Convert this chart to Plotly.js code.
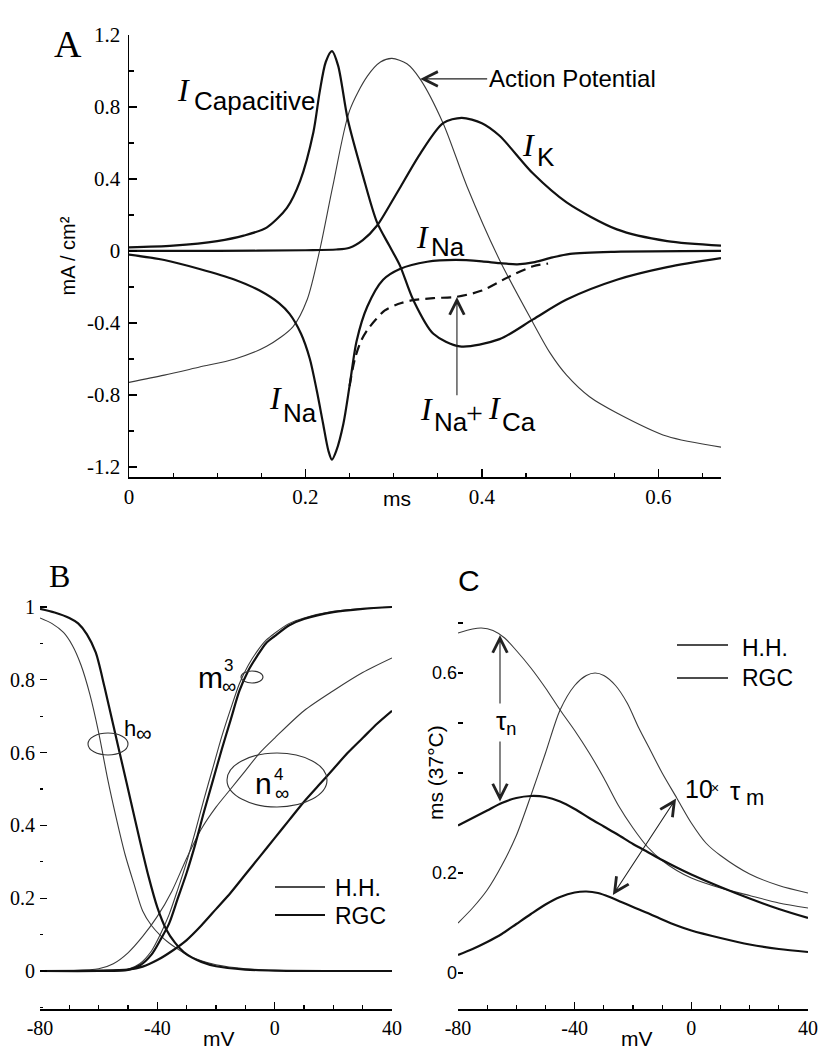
<!DOCTYPE html>
<html>
<head>
<meta charset="utf-8">
<script src="https://cdn.plot.ly/plotly-3.0.1.min.js"></script>
<style>html,body{margin:0;padding:0;background:#fff}</style>
</head>
<body>
<div id="chart" style="width:826px;height:1050px"></div>
<script>
// ---- Panel A: currents during the action potential (t in ms, mA/cm2) ----
const apT = [0, 0.04, 0.08, 0.12, 0.156, 0.186, 0.202, 0.216, 0.231, 0.25, 0.27, 0.285, 0.298, 0.315, 0.33, 0.356, 0.383, 0.42, 0.458, 0.477, 0.496, 0.522, 0.553, 0.61, 0.671];
const apV = [-0.73, -0.69, -0.645, -0.6, -0.53, -0.42, -0.27, 0, 0.36, 0.78, 0.97, 1.05, 1.07, 1.04, 0.955, 0.71, 0.36, -0.05, -0.40, -0.565, -0.69, -0.81, -0.90, -1.03, -1.09];

const ikT = [0, 0.1, 0.2, 0.235, 0.25, 0.265, 0.281, 0.295, 0.307, 0.33, 0.356, 0.377, 0.4, 0.42, 0.458, 0.496, 0.553, 0.61, 0.671];
const ikV = [0, 0, 0.004, 0.008, 0.018, 0.06, 0.14, 0.25, 0.35, 0.54, 0.71, 0.74, 0.71, 0.64, 0.43, 0.27, 0.12, 0.055, 0.03];

const capT = [0, 0.05, 0.1, 0.13, 0.156, 0.179, 0.194, 0.209, 0.216, 0.223, 0.23, 0.237, 0.248, 0.265, 0.281, 0.295, 0.307, 0.322, 0.345, 0.375, 0.42, 0.458, 0.496, 0.553, 0.61, 0.671];
const capV = [0.02, 0.03, 0.055, 0.085, 0.13, 0.24, 0.39, 0.66, 0.88, 1.05, 1.11, 1.03, 0.73, 0.42, 0.16, 0.03, -0.08, -0.27, -0.46, -0.53, -0.49, -0.38, -0.27, -0.16, -0.09, -0.04];

const naT = [0, 0.04, 0.08, 0.12, 0.148, 0.17, 0.182, 0.195, 0.205, 0.213, 0.22, 0.226, 0.23, 0.235, 0.243, 0.25, 0.258, 0.27, 0.288, 0.307, 0.338, 0.37, 0.4, 0.42, 0.44, 0.46, 0.48, 0.5, 0.55, 0.671];
const naV = [-0.02, -0.05, -0.1, -0.16, -0.22, -0.29, -0.35, -0.46, -0.6, -0.78, -0.96, -1.11, -1.16, -1.11, -0.96, -0.75, -0.5, -0.31, -0.16, -0.1, -0.06, -0.05, -0.058, -0.068, -0.074, -0.062, -0.036, -0.016, -0.005, 0];

const nacaT = [0.25, 0.256, 0.263, 0.27, 0.28, 0.29, 0.305, 0.32, 0.345, 0.371, 0.4, 0.432, 0.458, 0.475];
const nacaV = [-0.75, -0.6, -0.5, -0.44, -0.38, -0.33, -0.295, -0.275, -0.262, -0.255, -0.22, -0.14, -0.085, -0.07];

// ---- Panel B: steady-state gating (mV) ----
const hRgcV = [-80, -75, -70, -67, -64, -61, -58, -55, -52, -49, -46, -43, -40, -37, -34, -31, -28, -25, -20, -10, 0, 20, 40];
const hRgc = [0.995, 0.985, 0.97, 0.955, 0.925, 0.875, 0.78, 0.675, 0.57, 0.465, 0.36, 0.26, 0.175, 0.115, 0.078, 0.052, 0.036, 0.025, 0.013, 0.004, 0.001, 0, 0];
const hHHV = [-80, -76, -72, -69, -66, -63, -60, -57, -54, -51, -48, -45, -42, -39, -36, -33, -30, -25, -20, -10, 0, 20, 40];
const hHH = [0.97, 0.955, 0.93, 0.895, 0.84, 0.76, 0.655, 0.53, 0.42, 0.32, 0.24, 0.165, 0.125, 0.098, 0.077, 0.06, 0.045, 0.028, 0.017, 0.006, 0.002, 0, 0];

const mV = [-80, -60, -50, -46, -42, -39, -36, -33, -30, -27, -24, -21, -18, -15, -12, -9, -6, -3, 0, 5, 10, 20, 30, 40];
const m3Rgc = [0, 0, 0.003, 0.015, 0.045, 0.085, 0.13, 0.2, 0.27, 0.35, 0.44, 0.525, 0.61, 0.69, 0.77, 0.825, 0.865, 0.9, 0.92, 0.95, 0.967, 0.986, 0.995, 1.0];
const m3HH = [0, 0.001, 0.005, 0.02, 0.055, 0.1, 0.155, 0.225, 0.3, 0.385, 0.475, 0.56, 0.645, 0.72, 0.79, 0.84, 0.878, 0.908, 0.928, 0.955, 0.97, 0.988, 0.996, 1.0];

const nHHV = [-80, -70, -60, -55, -50, -45, -40, -35, -30, -25, -20, -15, -10, -5, 0, 10, 20, 30, 40];
const n4HH = [0, 0.001, 0.006, 0.02, 0.05, 0.095, 0.15, 0.22, 0.31, 0.39, 0.45, 0.5, 0.55, 0.6, 0.64, 0.715, 0.77, 0.82, 0.86];
const nRgcV = [-80, -60, -50, -45, -40, -35, -30, -25, -20, -15, -10, -5, 0, 5, 10, 15, 20, 25, 30, 35, 40];
const n4Rgc = [0, 0.001, 0.004, 0.012, 0.03, 0.055, 0.085, 0.125, 0.17, 0.215, 0.265, 0.315, 0.365, 0.415, 0.465, 0.51, 0.555, 0.6, 0.64, 0.68, 0.715];

// ---- Panel C: time constants at 37 C (ms) ----
const tnHHV = [-80, -75, -72, -68, -64, -60, -55, -50, -45, -40, -35, -30, -25, -20, -15, -10, -5, 0, 10, 20, 30, 40];
const tnHH = [0.68, 0.688, 0.69, 0.685, 0.67, 0.645, 0.61, 0.57, 0.526, 0.485, 0.44, 0.39, 0.335, 0.29, 0.252, 0.225, 0.205, 0.19, 0.17, 0.155, 0.14, 0.13];
const tmHHV = [-80, -75, -70, -65, -60, -55, -50, -45, -40, -36, -33, -30, -26, -22, -18, -14, -10, -5, 0, 5, 10, 20, 30, 40];
const tmHH10 = [0.1, 0.13, 0.166, 0.215, 0.275, 0.355, 0.44, 0.526, 0.575, 0.595, 0.6, 0.595, 0.575, 0.54, 0.49, 0.445, 0.4, 0.35, 0.3, 0.26, 0.235, 0.198, 0.175, 0.16];
const tnRgcV = [-80, -75, -70, -65, -60, -55, -50, -45, -40, -35, -30, -25, -20, -15, -10, -5, 0, 10, 20, 30, 40];
const tnRgc = [0.295, 0.31, 0.325, 0.34, 0.35, 0.354, 0.352, 0.343, 0.328, 0.31, 0.293, 0.276, 0.258, 0.242, 0.226, 0.211, 0.197, 0.172, 0.149, 0.128, 0.11];
const tmRgcV = [-80, -75, -70, -65, -60, -55, -50, -45, -40, -36, -32, -28, -24, -20, -15, -10, -5, 0, 10, 20, 30, 40];
const tmRgc10 = [0.036, 0.048, 0.062, 0.078, 0.098, 0.118, 0.137, 0.152, 0.161, 0.163, 0.16, 0.152, 0.142, 0.132, 0.12, 0.107, 0.095, 0.085, 0.07, 0.057, 0.048, 0.042];

// tick labels
const aXTicks = [0, 0.2, 0.4, 0.6];
const aYTicks = [-1.2, -0.8, -0.4, 0, 0.4, 0.8, 1.2];
const aYText = ['-1.2', '-0.8', '-0.4', '0', '0.4', '0.8', '1.2'];
const vTicks = [-80, -40, 0, 40];
const vText = ['-80', '-40', '0', '40'];
const bYTicks = [0, 0.2, 0.4, 0.6, 0.8, 1];
const bYText = ['0', '0.2', '0.4', '0.6', '0.8', '1'];
const cYTicks = [0, 0.2, 0.6];
const cYText = ['0', '0.2', '0.6'];
const cYMinor = [0.4, 0.5, 0.7];

const SERIF = 'Liberation Serif, Times New Roman, serif';
const SANS = 'Liberation Sans, Arial, sans-serif';
const W = 826, H = 1050;
const px = x => x / W;
const py = y => 1 - y / H;

function curve(x, y, xa, ya, thick, dash) {
    return {
        x, y, xaxis: xa, yaxis: ya, type: 'scatter', mode: 'lines', hoverinfo: 'skip',
        line: { color: thick ? '#111' : '#3a3a3a', width: thick ? 2.2 : 1.1, shape: 'spline', smoothing: 0.8, dash: dash || 'solid' },
    };
}

const data = [
    curve(apT, apV, 'x', 'y', false),
    curve(ikT, ikV, 'x', 'y', true),
    curve(naT, naV, 'x', 'y', true),
    curve(nacaT, nacaV, 'x', 'y', true, '10px,6px'),
    curve(capT, capV, 'x', 'y', true),

    curve(hHHV, hHH, 'x2', 'y2', false),
    curve(mV, m3HH, 'x2', 'y2', false),
    curve(nHHV, n4HH, 'x2', 'y2', false),
    curve(hRgcV, hRgc, 'x2', 'y2', true),
    curve(mV, m3Rgc, 'x2', 'y2', true),
    curve(nRgcV, n4Rgc, 'x2', 'y2', true),

    curve(tnHHV, tnHH, 'x3', 'y3', false),
    curve(tmHHV, tmHH10, 'x3', 'y3', false),
    curve(tnRgcV, tnRgc, 'x3', 'y3', true),
    curve(tmRgcV, tmRgc10, 'x3', 'y3', true),
];

const axBase = {
    showgrid: false, zeroline: false, fixedrange: true, tickmode: 'array',
    ticks: 'inside', tickcolor: '#000', linecolor: '#000',
};

function txt(text, x, y, size, family, xanchor, extra) {
    return Object.assign({
        xref: 'paper', yref: 'paper', x: px(x), y: py(y), text, showarrow: false,
        xanchor: xanchor || 'center', yanchor: 'middle',
        font: { size, family, color: '#000' },
    }, extra || {});
}

// bare arrows: a non-breaking space keeps the text box tiny but real
function arrow(xref, yref, hx, hy, tx, ty, both) {
    return {
        xref, yref, x: hx, y: hy, axref: xref, ayref: yref, ax: tx, ay: ty,
        text: '\u00a0', font: { size: 2, family: SANS, color: '#fff' }, borderpad: 0,
        showarrow: true, arrowhead: 5, arrowsize: 2.6, arrowwidth: 1.1, arrowcolor: '#222',
        arrowside: both ? 'end+start' : 'end', startarrowhead: 5, startarrowsize: 2.6,
    };
}

const annotations = [
    // panel A
    txt('A', 68, 44, 38, SERIF),
    txt('<i>I</i>', 183, 90, 32, SERIF),
    txt('Capacitive', 192, 101, 26, SANS, 'left'),
    txt('<i>I</i>', 528, 145, 32, SERIF),
    txt('K', 535, 157, 26, SANS, 'left'),
    txt('<i>I</i>', 422, 237, 32, SERIF),
    txt('Na', 429, 247, 26, SANS, 'left'),
    txt('<i>I</i>', 275, 398, 32, SERIF),
    txt('Na', 281, 413, 26, SANS, 'left'),
    txt('<i>I</i>', 426, 409, 32, SERIF),
    txt('Na', 432, 422, 26, SANS, 'left'),
    txt('+', 474, 412, 30, SERIF),
    txt('<i>I</i>', 494, 408, 32, SERIF),
    txt('Ca', 500, 422, 26, SANS, 'left'),
    {
        xref: 'x', yref: 'y', x: 0.33, y: 0.956, ax: 152, ay: 0, text: 'Action Potential',
        font: { size: 24, family: SANS, color: '#000' }, showarrow: true,
        arrowhead: 5, arrowsize: 2.6, arrowwidth: 1.1, arrowcolor: '#222',
    },
    arrow('x', 'y', 0.3717, -0.256, 0.3717, -0.81, false),
    txt('ms', 397, 498, 21, SANS),

    // panel B
    txt('B', 60, 576, 32, SERIF),
    txt('h', 122, 728, 22, SANS, 'left'),
    txt('∞', 134, 733, 22, SANS, 'left'),
    txt('m', 196, 677, 30, SANS, 'left'),
    txt('3', 228, 665, 17, SANS),
    txt('∞', 229, 686, 20, SANS),
    txt('n', 253, 783, 30, SANS, 'left'),
    txt('4', 278, 774, 17, SANS),
    txt('∞', 282, 793, 20, SANS),
    txt('H.H.', 333, 888, 23, SANS, 'left'),
    txt('RGC', 333, 916, 23, SANS, 'left'),
    txt('mV', 219, 1038, 21, SANS),

    // panel C
    txt('C', 469, 580, 30, SANS),
    txt('ms (37°C)', 435, 772, 21, SANS, 'center', { textangle: -90 }),
    arrow('x3', 'y3', -65.6, 0.676, -65.6, 0.34, true),
    txt('τ<sub>n</sub>', 506, 722, 26, SANS, 'center', { bgcolor: '#fff', borderpad: 2 }),
    txt('10', 683, 789, 25, SANS, 'left'),
    txt('×', 715, 788, 14, SANS),
    txt('τ', 735, 791, 26, SANS),
    txt('m', 744, 797, 22, SANS, 'left'),
    arrow('x3', 'y3', -26.9, 0.156, -4.9, 0.352, true),
    txt('H.H.', 740, 648, 23, SANS, 'left'),
    txt('RGC', 740, 678, 23, SANS, 'left'),
    txt('mV', 637, 1038, 21, SANS),
];

function ellipse(cx, cy, rx, ry) {
    return {
        type: 'circle', xref: 'paper', yref: 'paper',
        x0: px(cx - rx), x1: px(cx + rx), y0: py(cy + ry), y1: py(cy - ry),
        line: { color: '#333', width: 1.1 },
    };
}
function hline(x0, x1, y, width) {
    return { type: 'line', xref: 'paper', yref: 'paper', x0: px(x0), x1: px(x1), y0: py(y), y1: py(y), line: { color: '#111', width } };
}

const shapes = [
    ellipse(108, 744, 20, 11),
    ellipse(252, 677, 11, 6),
    ellipse(277, 780, 50, 27),
    hline(275, 325, 887, 1.4),
    hline(275, 325, 915, 2.2),
    hline(677, 728, 645, 1.4),
    hline(677, 728, 678, 1.6),
];

const layout = {
    width: W, height: H, showlegend: false,
    margin: { l: 0, r: 0, t: 0, b: 0 },
    paper_bgcolor: '#fff', plot_bgcolor: '#fff',
    xaxis: Object.assign({}, axBase, {
        domain: [px(129), px(721)], range: [0, 0.671], anchor: 'y',
        showline: true, linewidth: 1.5, ticklen: 8, tickwidth: 1.5,
        tickvals: aXTicks, ticktext: aXTicks.map(String),
        minor: { dtick: 0.05, tick0: 0, ticks: 'inside', ticklen: 4, tickwidth: 1.2, tickcolor: '#000' },
        tickfont: { family: SERIF, size: 21, color: '#000' },
    }),
    yaxis: Object.assign({}, axBase, {
        domain: [py(477), py(35)], range: [-1.256, 1.2], anchor: 'x',
        showline: true, linewidth: 1.5, ticklen: 8, tickwidth: 1.5,
        tickvals: aYTicks, ticktext: aYText, ticklabelstandoff: 3,
        minor: { dtick: 0.2, tick0: 0, ticks: 'inside', ticklen: 5, tickwidth: 1.2, tickcolor: '#000' },
        tickfont: { family: SERIF, size: 21, color: '#000' },
        title: { text: 'mA / cm²', font: { family: SANS, size: 20, color: '#000' }, standoff: 6 },
    }),
    xaxis2: Object.assign({}, axBase, {
        domain: [px(40), px(392)], range: [-80, 40], anchor: 'y2',
        showline: true, linewidth: 1.5, ticklen: 7, tickwidth: 1.5,
        tickvals: vTicks, ticktext: vText,
        minor: { dtick: 10, tick0: 0, ticks: 'inside', ticklen: 4, tickwidth: 1.2, tickcolor: '#000' },
        tickfont: { family: SERIF, size: 20, color: '#000' },
    }),
    yaxis2: Object.assign({}, axBase, {
        domain: [py(1009), py(600)], range: [-0.1044, 1.0192], anchor: 'x2',
        showline: false, ticklen: 7, tickwidth: 1.3,
        tickvals: bYTicks, ticktext: bYText, ticklabelstandoff: 4,
        minor: { dtick: 0.1, tick0: 0, ticks: 'inside', ticklen: 3, tickwidth: 1.2, tickcolor: '#000' },
        tickfont: { family: SERIF, size: 20, color: '#000' },
    }),
    xaxis3: Object.assign({}, axBase, {
        domain: [px(458), px(808)], range: [-80, 40], anchor: 'y3',
        showline: true, linewidth: 1.5, ticklen: 7, tickwidth: 1.5,
        tickvals: vTicks, ticktext: vText,
        minor: { dtick: 10, tick0: 0, ticks: 'inside', ticklen: 4, tickwidth: 1.2, tickcolor: '#000' },
        tickfont: { family: SERIF, size: 20, color: '#000' },
    }),
    yaxis3: Object.assign({}, axBase, {
        domain: [py(1009), py(600)], range: [-0.072, 0.746], anchor: 'x3',
        showline: false, ticklen: 5, tickwidth: 1.3,
        tickvals: cYTicks, ticktext: cYText,
        minor: { tickmode: 'array', tickvals: cYMinor, ticks: 'inside', ticklen: 5, tickwidth: 1.3, tickcolor: '#000' },
        tickfont: { family: SANS, size: 18, color: '#000' },
    }),
    annotations,
    shapes,
};

Plotly.newPlot('chart', data, layout, { staticPlot: true }).catch((error) => {
    console.error('Error plotting the graph:', error);
});
</script>
</body>
</html>
